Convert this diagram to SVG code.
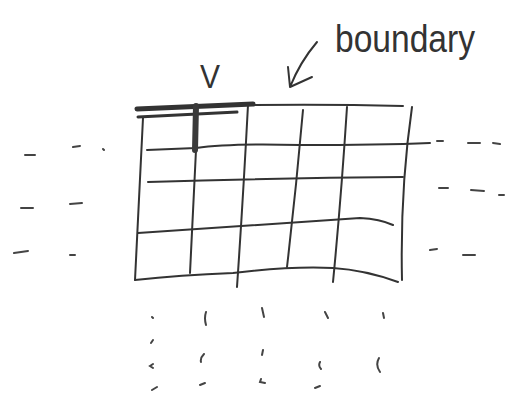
<svg xmlns="http://www.w3.org/2000/svg" width="520" height="394" viewBox="0 0 520 394">
<style>
.s{fill:none;stroke:#333;stroke-width:2;stroke-linecap:round;stroke-linejoin:round}
.m{fill:none;stroke:#444;stroke-width:2;stroke-linecap:round}
.t{font-family:"Liberation Sans",sans-serif;fill:#333}
</style>
<rect width="520" height="394" fill="#fff"/>
<g id="grid">
<path class="s" d="M253,105 Q330,104 403,106"/>
<path class="s" d="M143,118 Q139,200 135,280"/>
<path class="s" d="M196,150 Q193,210 190,273"/>
<path class="s" d="M248,105 Q243,200 237,287"/>
<path class="s" d="M303,110 Q296,190 287,267"/>
<path class="s" d="M347,107 Q341,200 333,282"/>
<path class="s" d="M412,107 Q400,190 402,280"/>
<path class="s" d="M147,150 L196,148 Q230,143 300,145 Q380,145 430,143"/>
<path class="s" d="M148,182 Q280,178 403,177"/>
<path class="s" d="M138,233 Q250,225 360,218 Q380,219 393,225"/>
<path class="s" d="M135,280 Q180,275 233,273 Q290,266 333,268 Q365,270 398,282"/>
</g>
<g id="v-marker">
<path d="M137,109 L253,104" fill="none" stroke="#333" stroke-width="5" stroke-linecap="round"/>
<path d="M138,117 L237,112" fill="none" stroke="#333" stroke-width="3" stroke-linecap="round"/>
<path d="M196,106 L195,150" fill="none" stroke="#3a3a3a" stroke-width="6" stroke-linecap="round"/>
<text class="t" x="210" y="88" font-size="34" text-anchor="middle" textLength="20" lengthAdjust="spacingAndGlyphs">V</text>
</g>
<g id="boundary-label">
<text class="t" x="335" y="52" font-size="38" textLength="140" lengthAdjust="spacingAndGlyphs">boundary</text>
<path class="s" d="M317,42 Q300,62 290,87 M288,67 L290,87 L312,77"/>
</g>
<g id="dashes">
<path class="m" d="M25,155 L35,155 M73,147 L80,146 M103,149 L104,150 M21,208 L33,208 M70,204 L82,203 M14,253 L28,251 M70,255 L75,255 M437,141 L443,141 M468,143 L480,143 M493,143 L500,144 M439,188 L448,188 M471,190 L484,191 M499,195 L504,195 M430,250 L437,249 M463,255 L475,255"/>
<path class="m" d="M152,317 L153,318 M206,312 Q204,318 206,325 M262,308 L264,317 M325,312 L328,318 M383,313 L384,318 M153,340 L151,343 M153,364 L150,366 L153,368 M204,354 Q200,358 201,362 M263,350 L262,355 M320,362 Q318,366 321,369 M379,358 Q375,365 380,372 M152,390 L157,387 M200,385 L205,383 M261,379 L260,382 L265,383 M315,388 L320,386"/>
</g>
</svg>
